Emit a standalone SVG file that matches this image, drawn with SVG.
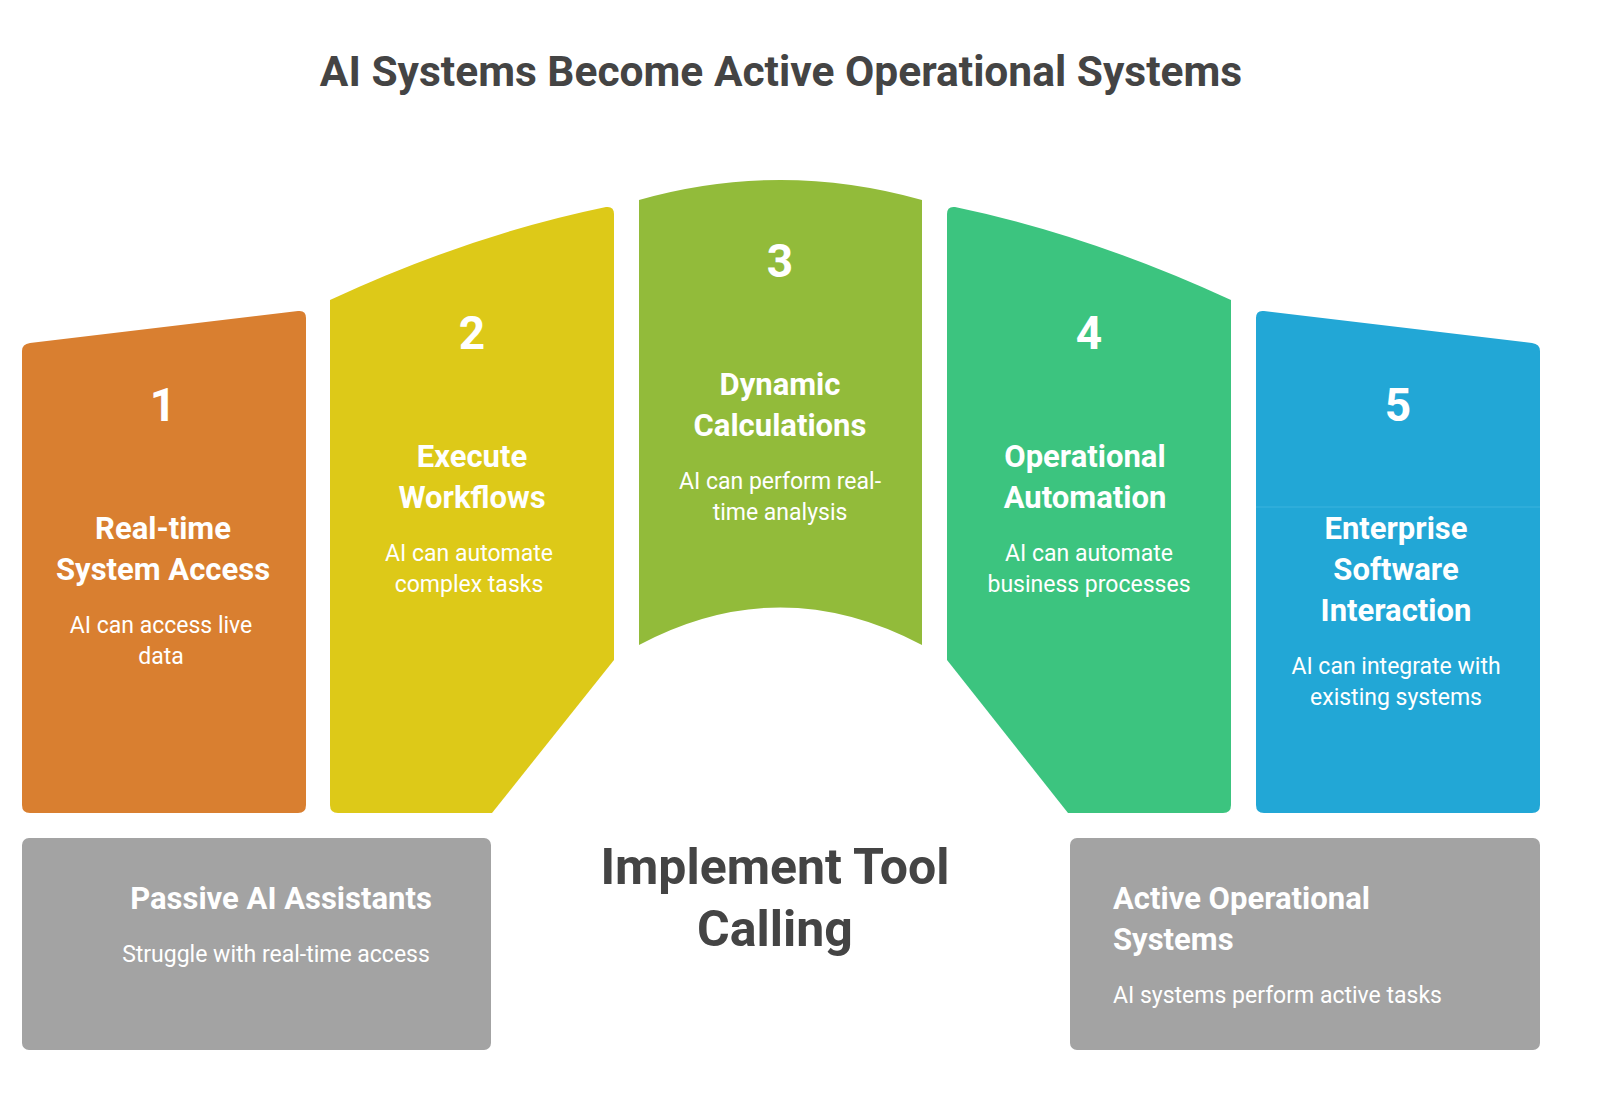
<svg xmlns="http://www.w3.org/2000/svg" width="1600" height="1101" viewBox="0 0 1600 1101">
<style>
text{font-family:Roboto,"Liberation Sans",sans-serif;fill:#fff;text-anchor:middle}
.num{font-size:46px;font-weight:bold}
.h{font-size:31px;font-weight:bold}
.d{font-size:23px}
.t{fill:#444;font-weight:bold}
</style>
<rect width="1600" height="1101" fill="#fff"/>
<text class="t" x="781" y="86" font-size="42.5">AI Systems Become Active Operational Systems</text>
<g id="n1">
<path d="M30 343 L298 311 Q306 310 306 318 L306 805 Q306 813 298 813 L30 813 Q22 813 22 805 L22 351 Q22 344 30 343Z" fill="#D97F30"/>
<text class="num" x="163" y="421">1</text>
<text class="h" x="163" y="539">Real-time</text><text class="h" x="163" y="580">System Access</text>
<text class="d" x="161" y="633">AI can access live</text><text class="d" x="161" y="664">data</text>
</g>
<g id="n2">
<path d="M330 300 Q470 235 606 207 Q614 206 614 214 L614 660 L492 813 L338 813 Q330 813 330 805Z" fill="#DDC918"/>
<text class="num" x="472" y="349">2</text>
<text class="h" x="472" y="467">Execute</text><text class="h" x="472" y="508">Workflows</text>
<text class="d" x="469" y="561">AI can automate</text><text class="d" x="469" y="592">complex tasks</text>
</g>
<g id="n3">
<path d="M639 200 Q780 160 922 200 L922 645 Q780 570 639 645Z" fill="#92BB3A"/>
<text class="num" x="780" y="277">3</text>
<text class="h" x="780" y="395">Dynamic</text><text class="h" x="780" y="436">Calculations</text>
<text class="d" x="780" y="489">AI can perform real-</text><text class="d" x="780" y="520">time analysis</text>
</g>
<g id="n4">
<path d="M1231 300 Q1090 235 955 207 Q947 206 947 214 L947 660 L1068 813 L1223 813 Q1231 813 1231 805Z" fill="#3CC47F"/>
<text class="num" x="1089" y="349">4</text>
<text class="h" x="1085" y="467">Operational</text><text class="h" x="1085" y="508">Automation</text>
<text class="d" x="1089" y="561">AI can automate</text><text class="d" x="1089" y="592">business processes</text>
</g>
<g id="n5">
<path d="M1532 343 L1264 311 Q1256 310 1256 318 L1256 805 Q1256 813 1264 813 L1532 813 Q1540 813 1540 805 L1540 351 Q1540 344 1532 343Z" fill="#22A7D6"/>
<line x1="1256" y1="507" x2="1540" y2="507" stroke="#3bb3de" stroke-width="1"/>
<text class="num" x="1398" y="421">5</text>
<text class="h" x="1396" y="539">Enterprise</text><text class="h" x="1396" y="580">Software</text><text class="h" x="1396" y="621">Interaction</text>
<text class="d" x="1396" y="674">AI can integrate with</text><text class="d" x="1396" y="705">existing systems</text>
</g>
<g id="passive">
<rect x="22" y="838" width="469" height="212" rx="7" fill="#A3A3A3"/>
<text class="h" x="281" y="909">Passive AI Assistants</text>
<text class="d" x="276" y="962">Struggle with real-time access</text>
</g>
<g id="active">
<rect x="1070" y="838" width="470" height="212" rx="7" fill="#A3A3A3"/>
<text class="h" x="1113" y="909" style="text-anchor:start">Active Operational</text>
<text class="h" x="1113" y="950" style="text-anchor:start">Systems</text>
<text class="d" x="1113" y="1003" style="text-anchor:start">AI systems perform active tasks</text>
</g>
<g id="center">
<text class="t" x="775" y="884" font-size="50">Implement Tool</text>
<text class="t" x="775" y="946" font-size="50">Calling</text>
</g>
<g id="connectors"/>
</svg>
